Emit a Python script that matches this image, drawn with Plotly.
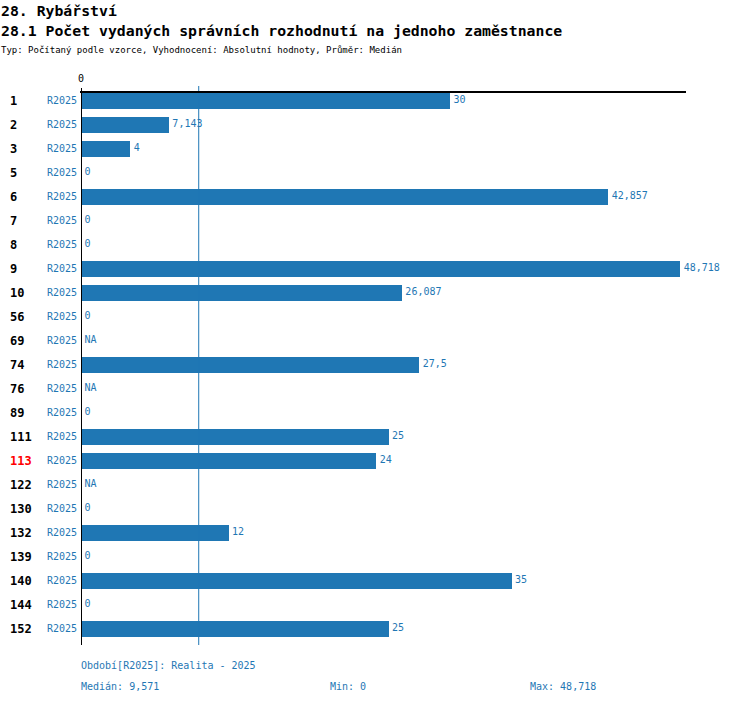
"""
28.1 Počet vydaných správních rozhodnutí na jednoho zaměstnance
horizontal bar chart, median line, footer stats
"""
import plotly.graph_objects as go

# data
row_ids = ["1", "2", "3", "5", "6", "7", "8", "9", "10", "56", "69", "74",
           "76", "89", "111", "113", "122", "130", "132", "139", "140", "144", "152"]
period = "R2025"
values = [30, 7.143, 4, 0, 42.857, 0, 0, 48.718, 26.087, 0, None, 27.5,
          None, 0, 25, 24, None, 0, 12, 0, 35, 0, 25]
highlight = "113"
median_value = 9.571
min_value = 0
max_value = 48.718

BLUE = "#1f77b4"
FONT = "DejaVu Sans Mono"

# page geometry (px)
W, H = 750, 704
L, R, T, B = 81, 686, 86, 645
ROW = 24
FIRST_ROW_Y = 100.5
PX_PER_UNIT = (450 - L) / 30  # bar "30" ends at x=450


def px_x(px):
    return (px - L) / (R - L)


def px_y(py):
    return (B - py) / (B - T)


def fmt(v):
    if v is None:
        return "NA"
    return f"{v:g}".replace(".", ",")


idx = list(range(len(row_ids)))
y_top = -(FIRST_ROW_Y - T) / ROW
y_bottom = y_top + (B - T) / ROW
x_max = (R - L) / PX_PER_UNIT

fig = go.Figure()

fig.add_trace(go.Bar(
    x=[v if v is not None else 0 for v in values],
    y=idx,
    orientation="h",
    width=0.667,
    marker=dict(color=BLUE, line=dict(width=0)),
    hoverinfo="skip",
))

# value labels (incl. NA rows, which have no bar)
fig.add_trace(go.Scatter(
    x=[v if v is not None else 0 for v in values],
    y=idx,
    mode="markers+text",
    marker=dict(size=4, opacity=0),
    text=[fmt(v) for v in values],
    textposition="middle right",
    textfont=dict(family=FONT, size=10, color=BLUE),
    cliponaxis=False,
    hoverinfo="skip",
))

annotations = []
for i, rid in enumerate(row_ids):
    annotations.append(dict(
        x=px_x(8), y=i, xref="paper", yref="y", xanchor="left", yanchor="middle",
        text=f"<b>{rid}</b>", showarrow=False,
        font=dict(family=FONT, size=12, color="red" if rid == highlight else "black"),
    ))
    annotations.append(dict(
        x=px_x(79), y=i, xref="paper", yref="y", xanchor="right", yanchor="middle",
        text=period, showarrow=False,
        font=dict(family=FONT, size=10, color=BLUE),
    ))

annotations += [
    dict(x=0, y=1, xref="x", yref="paper", xanchor="center", yanchor="bottom",
         text="0", showarrow=False, font=dict(family=FONT, size=10, color="black")),
    dict(x=px_x(-1), y=px_y(10), xref="paper", yref="paper", xanchor="left", yanchor="middle",
         text="<b>28. Rybářství</b>", showarrow=False,
         font=dict(family=FONT, size=14.8, color="black")),
    dict(x=px_x(-1), y=px_y(30), xref="paper", yref="paper", xanchor="left", yanchor="middle",
         text="<b>28.1 Počet vydaných správních rozhodnutí na jednoho zaměstnance</b>",
         showarrow=False, font=dict(family=FONT, size=14.8, color="black")),
    dict(x=px_x(-1), y=px_y(50), xref="paper", yref="paper", xanchor="left", yanchor="middle",
         text="Typ: Počítaný podle vzorce, Vyhodnocení: Absolutní hodnoty, Průměr: Medián",
         showarrow=False, font=dict(family=FONT, size=9, color="black")),
    dict(x=px_x(79), y=px_y(665), xref="paper", yref="paper", xanchor="left", yanchor="middle",
         text=f"Období[{period}]: Realita - 2025", showarrow=False,
         font=dict(family=FONT, size=10, color=BLUE)),
    dict(x=px_x(79), y=px_y(686), xref="paper", yref="paper", xanchor="left", yanchor="middle",
         text=f"Medián: {fmt(median_value)}", showarrow=False,
         font=dict(family=FONT, size=10, color=BLUE)),
    dict(x=px_x(328), y=px_y(686), xref="paper", yref="paper", xanchor="left", yanchor="middle",
         text=f"Min: {fmt(min_value)}", showarrow=False,
         font=dict(family=FONT, size=10, color=BLUE)),
    dict(x=px_x(528), y=px_y(686), xref="paper", yref="paper", xanchor="left", yanchor="middle",
         text=f"Max: {fmt(max_value)}", showarrow=False,
         font=dict(family=FONT, size=10, color=BLUE)),
]

shapes = [
    # median line
    dict(type="line", xref="x", yref="paper", x0=median_value, x1=median_value,
         y0=0, y1=1, line=dict(color=BLUE, width=1)),
    # top line
    dict(type="line", xref="paper", yref="paper", x0=px_x(80), x1=1,
         y0=px_y(92), y1=px_y(92), line=dict(color="black", width=2)),
    # zero axis
    dict(type="line", xref="x", yref="paper", x0=0, x1=0,
         y0=0, y1=px_y(88), line=dict(color="black", width=2)),
]

fig.update_layout(
    width=W, height=H,
    margin=dict(l=L, r=W - R, t=T, b=H - B, pad=0),
    paper_bgcolor="white", plot_bgcolor="white",
    showlegend=False,
    font=dict(family=FONT, size=10),
    xaxis=dict(range=[0, x_max], visible=False, fixedrange=True),
    yaxis=dict(range=[y_bottom, y_top], visible=False, fixedrange=True),
    annotations=annotations,
    shapes=shapes,
    bargap=0,
)

fig.write_html("out.html", config={"displayModeBar": False},
               post_script="document.body.style.margin='0';")
